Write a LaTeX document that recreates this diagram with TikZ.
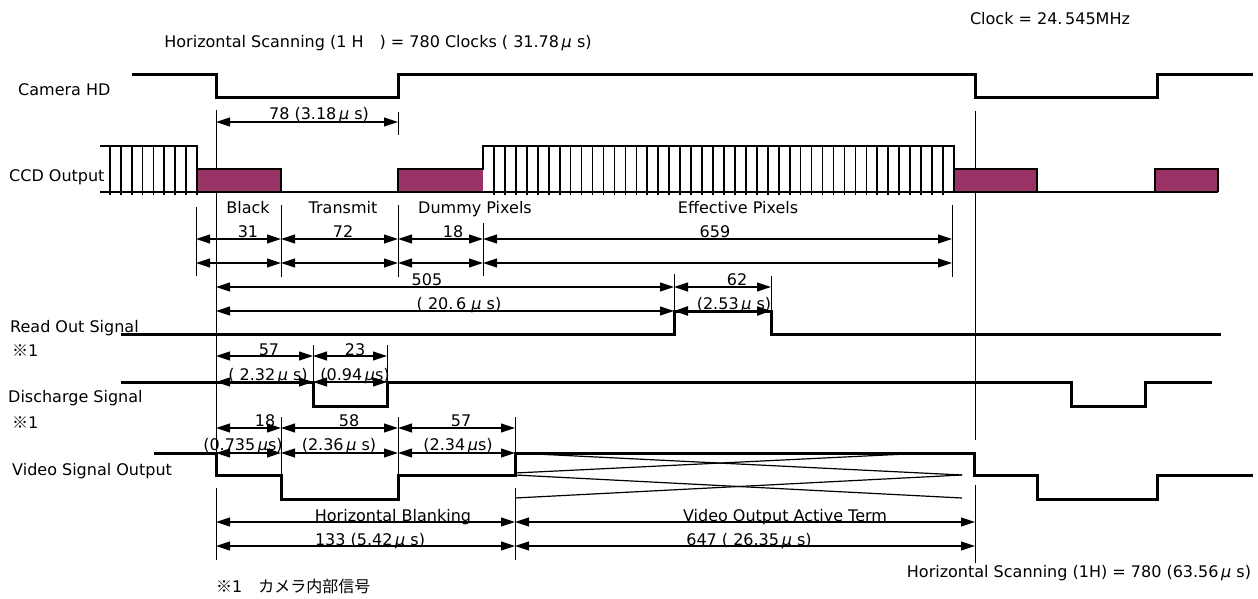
\documentclass[tikz,border=0pt]{standalone}
\usepackage{fontspec}
\setmainfont{DejaVu Sans}
\newfontfamily\cjk{Noto Sans CJK JP}
\usetikzlibrary{arrows.meta}
\newcommand\myMu{\textit{μ}}
\begin{document}
\begin{tikzpicture}[x=1pt,y=-1pt,
  wave/.style={line width=3pt, line join=miter},
  ccdline/.style={line width=2.4pt, line join=miter},
  stripe/.style={line width=1.7pt},
  guide/.style={line width=1pt},
  dim/.style={line width=1.1pt, {Triangle[length=14pt,width=9pt]}-{Triangle[length=14pt,width=9pt]}},
  dimthick/.style={dim, line width=2.4pt},
  xline/.style={line width=1.2pt},
  lbl/.style={font=\fontsize{16}{18}\selectfont, inner sep=0pt, anchor=base},
  lblL/.style={lbl, anchor=base west}]
\definecolor{plum}{RGB}{153,51,102}
\useasboundingbox (0,0) rectangle (1258,599);

% ---------- titles ----------
\node[lbl] (clk) at (1050,25) {Clock = 24.\,545MHz};
\node[lbl] (hs) at (378,48) {Horizontal Scanning (1 H\quad) = 780 Clocks ( 31.78\,\myMu\ s)};
\node[lbl] (hsb) at (1079,577) {Horizontal Scanning (1H) = 780 (63.56\,\myMu\ s)};
\node[lblL] (note) at (216,592) {{\cjk ※}1\quad{\cjk カメラ内部信号}};

% ---------- signal names ----------
\node[lblL] (lcam) at (18,96) {Camera HD};
\node[lblL] (lccd) at (9,182) {CCD Output};
\node[lblL] (lro) at (10,332) {Read Out Signal};
\node[lblL] (lro1) at (12,356) {{\cjk ※}1};
\node[lblL] (ldc) at (8,402) {Discharge Signal};
\node[lblL] (ldc1) at (12,428) {{\cjk ※}1};
\node[lblL] (lvid) at (12,475) {Video Signal Output};

% ---------- guide lines ----------
\draw[guide] (216,110) -- (216,453);
\draw[guide] (216,488) -- (216,560);
\draw[guide] (975,111) -- (975,440);
\draw[guide] (975,485) -- (975,563);

% ---------- Camera HD ----------
\draw[wave] (132,75) -- (216,75) -- (216,98) -- (398,98) -- (398,75) -- (975,75)
  -- (975,98) -- (1157,98) -- (1157,75) -- (1253,75);
\draw[guide] (398,112) -- (398,135);
\draw[dim] (216,122) -- (398,122);
\node[lbl] (d78) at (319,120) {78 (3.18\,\myMu\ s)};

% ---------- CCD Output ----------
\fill[plum] (197,169) rectangle (281,192);
\fill[plum] (398,169) rectangle (483,192);
\fill[plum] (954,169) rectangle (1037,192);
\fill[plum] (1155,169) rectangle (1218,192);
\foreach \i in {0,...,8} \draw[stripe] ({110+\i*10.85},146) -- ({110+\i*10.85},195);
\foreach \i in {1,...,42} \draw[stripe] ({483+\i*10.953},146) -- ({483+\i*10.953},195);
\draw[ccdline] (100,192) -- (1218,192);
\draw[ccdline] (100,146) -- (197,146) -- (197,192);
\draw[ccdline] (197,169) -- (281,169) -- (281,192);
\draw[ccdline] (398,192) -- (398,169) -- (483,169) -- (483,146) -- (954,146) -- (954,192);
\draw[ccdline] (954,169) -- (1037,169) -- (1037,192);
\draw[ccdline] (1155,192) -- (1155,169) -- (1218,169) -- (1218,192);

\node[lbl] (tblack) at (248,213) {Black};
\node[lbl] (ttrans) at (343,213) {Transmit};
\node[lbl] (tdummy) at (475,213) {Dummy Pixels};
\node[lbl] (teff) at (738,213) {Effective Pixels};

\draw[guide] (196,207) -- (196,276);
\draw[guide] (281,205) -- (281,277);
\draw[guide] (398,205) -- (398,277);
\draw[guide] (483,223) -- (483,276);
\draw[guide] (952,205) -- (952,277);
\foreach \y in {239,263} {
  \draw[dim] (196,\y) -- (281,\y);
  \draw[dim] (281,\y) -- (398,\y);
  \draw[dim] (398,\y) -- (483,\y);
  \draw[dim] (483,\y) -- (952,\y);
}
\node[lbl] (n31) at (248,237) {31};
\node[lbl] (n72) at (343,237) {72};
\node[lbl] (n18a) at (453,237) {18};
\node[lbl] (n659) at (715,237) {659};

% ---------- Read Out ----------
\draw[guide] (674,274) -- (674,311);
\draw[guide] (771,276) -- (771,311);
\draw[dim] (216,287) -- (674,287);
\draw[dim] (674,287) -- (771,287);
\draw[dim] (216,311) -- (674,311);
\draw[wave] (121,334) -- (674,334) -- (674,311) -- (771,311) -- (771,334) -- (1221,334);
\draw[dimthick] (674,311) -- (771,311);
\node[lbl] (n505) at (427,285) {505};
\node[lbl] (n206) at (459,309) {( 20.\,6 \myMu\ s)};
\node[lbl] (n62) at (737,285) {62};
\node[lbl] (n253) at (734,309) {(2.53\,\myMu\ s)};

% ---------- Discharge ----------
\draw[guide] (313,345) -- (313,382);
\draw[guide] (387,345) -- (387,382);
\draw[wave] (121,382) -- (313,382) -- (313,406) -- (387,406) -- (387,382) -- (1071,382)
  -- (1071,406) -- (1145,406) -- (1145,382) -- (1212,382);
\draw[dim] (216,356) -- (313,356);
\draw[dim] (313,356) -- (387,356);
\draw[dim] (216,382) -- (313,382);
\draw[dim] (313,382) -- (387,382);
\node[lbl] (n57a) at (269,355) {57};
\node[lbl] (n232) at (268,380) {( 2.32\,\myMu\ s)};
\node[lbl] (n23) at (355,355) {23};
\node[lbl] (n094) at (355,380) {(0.94\,\myMu s)};

% ---------- Video Signal Output ----------
\draw[guide] (281,417) -- (281,475);
\draw[guide] (398,417) -- (398,475);
\draw[guide] (515,417) -- (515,453);
\draw[guide] (515,488) -- (515,560);
\draw[xline] (515,473) -- (927,453);
\draw[xline] (515,453) -- (962,475);
\draw[xline] (515,475) -- (962,498);
\draw[xline] (515,498) -- (962,475);
\draw[wave] (154,453) -- (216,453) -- (216,475) -- (281,475) -- (281,499) -- (398,499)
  -- (398,475) -- (515,475) -- (515,453) -- (974,453) -- (974,475) -- (1037,475)
  -- (1037,499) -- (1157,499) -- (1157,475) -- (1253,475);
\foreach \y in {428,453} {
  \draw[dim] (216,\y) -- (281,\y);
  \draw[dim] (281,\y) -- (398,\y);
  \draw[dim] (398,\y) -- (515,\y);
}
\node[lbl] (n18b) at (265,426) {18};
\node[lbl] (n58) at (349,426) {58};
\node[lbl] (n57b) at (461,426) {57};
\node[lbl] (n0735) at (243,450) {(0.735\,\myMu s)};
\node[lbl] (n236) at (339,450) {(2.36\,\myMu\ s)};
\node[lbl] (n234) at (458,450) {(2.34\,\myMu s)};

% ---------- bottom dimensions ----------
\foreach \y in {522,546} {
  \draw[dim] (216,\y) -- (515,\y);
  \draw[dim] (515,\y) -- (975,\y);
}
\node[lbl] (thb) at (393,521) {Horizontal Blanking};
\node[lbl] (n133) at (370,545) {133 (5.42\,\myMu\ s)};
\node[lbl] (tvo) at (785,521) {Video Output Active Term};
\node[lbl] (n647) at (749,545) {647 ( 26.35\,\myMu\ s)};
\end{tikzpicture}
\end{document}
